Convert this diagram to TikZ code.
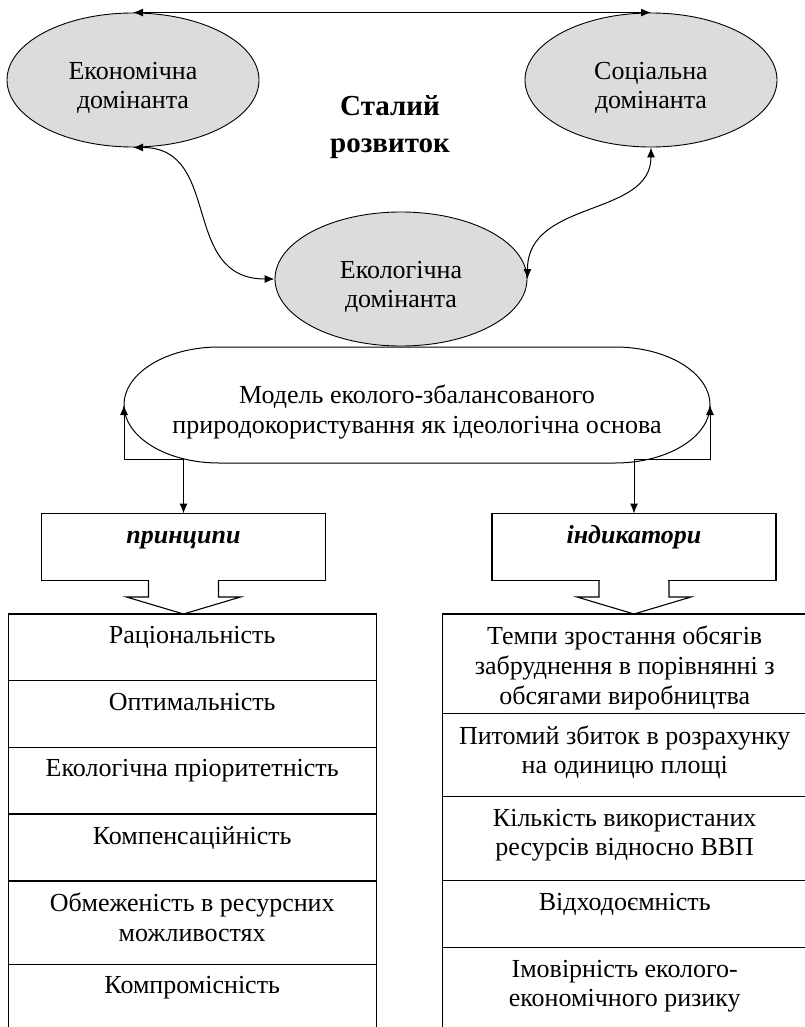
\documentclass[tikz,border=0pt]{standalone}
\usepackage{fontspec}
\setmainfont{Liberation Serif}
\usetikzlibrary{positioning,shapes.geometric,arrows.meta}
\definecolor{domgray}{RGB}{220,221,219}

\tikzset{
  dominant/.style={ellipse, draw, fill=domgray, line width=0.9pt, minimum width=252pt, minimum height=134pt, inner sep=0pt},
  domtext/.style={align=center, yshift=-8pt},
  headbox/.style={draw, line width=1.1pt, outer sep=0pt, minimum width=284pt, minimum height=67pt},
  headtext/.style={font=\fontsize{26}{30}\selectfont\bfseries\itshape, text height=18pt, text depth=6pt, yshift=10pt},
  lcell/.style={draw, line width=1.1pt, outer sep=0pt, inner sep=0pt, minimum width=367.7pt, minimum height=#1},
  rcell/.style={draw, line width=1.1pt, outer sep=0pt, inner sep=0pt, minimum width=364pt, minimum height=#1},
  celltext/.style={anchor=north, yshift=-12pt, align=center, inner sep=0pt},
  link/.style={line width=1pt, {Latex[length=10pt,width=8pt]}-{Latex[length=10pt,width=8pt]}},
  feed/.style={line width=1pt, -{Latex[length=10pt,width=8pt]}},
}

\begin{document}
\begin{tikzpicture}[x=1pt, y=1pt, font=\fontsize{26}{29.8}\selectfont]
\useasboundingbox (0,0) rectangle (804,-1027);

\node[dominant, label={[domtext]center:Економічна\\домінанта}] (econ) at (133,-80) {};
\node[dominant, label={[domtext]center:Соціальна\\домінанта}] (soc) at (651,-80) {};
\node[dominant, label={[domtext]center:Екологічна\\домінанта}] (eco) at (401,-279) {};
\node[font=\fontsize{29}{37}\selectfont\bfseries, align=center] (goal) at (390,-127) {Сталий\\розвиток};

\draw[link] (econ.north) -- (soc.north);
\draw[link] (econ.south) .. controls +(90,0) and +(-95,0) .. (eco.west);
\draw[link] (soc.south) .. controls +(0,-70) and +(0,80) .. (eco.east);

\node[minimum width=586pt, minimum height=116pt, inner sep=0pt, outer sep=0pt,
  label={[align=center, yshift=-7pt]center:Модель еколого-збалансованого\\природокористування як ідеологічна основа}] (model) at (417,-405) {};
\draw[line width=1pt] ([xshift=95pt]model.north west) -- ([xshift=-95pt]model.north east)
  arc[start angle=90, end angle=-90, x radius=95pt, y radius=58pt]
  -- ([xshift=95pt]model.south west)
  arc[start angle=270, end angle=90, x radius=95pt, y radius=58pt] -- cycle;

\node[headbox, label={[headtext]center:принципи}] (princ) at (183.5,-547) {};
\node[headbox, label={[headtext]center:індикатори}] (indic) at (634,-547) {};

\coordinate (pfoot) at (183.5,-459);
\coordinate (ifoot) at (634,-459);
\draw[feed] (pfoot) -| (model.west);
\draw[feed] (ifoot) -| (model.east);
\draw[feed] (pfoot) -- (princ.north);
\draw[feed] (ifoot) -- (indic.north);

\foreach \b in {princ,indic}{
  \fill[white] ([xshift=-34.4pt,yshift=1pt]\b.south) rectangle ([xshift=34.4pt,yshift=-1pt]\b.south);
  \draw[line width=1.1pt] ([xshift=-35pt]\b.south) -- ++(0,-16.5) -- ++(-22,0) -- ++(57,-17) -- ++(57,17) -- ++(-22,0) -- ++(0,16.5);
}

\node[lcell=66.7pt, anchor=north, label={[celltext]north:Раціональність}] (pl1) at (192.2,-614) {};
\node[lcell=66.6pt, below=0pt of pl1, label={[celltext]north:Оптимальність}] (pl2) {};
\node[lcell=66.7pt, below=0pt of pl2, label={[celltext]north:Екологічна пріоритетність}] (pl3) {};
\node[lcell=67pt, below=0pt of pl3, label={[celltext]north:Компенсаційність}] (pl4) {};
\node[lcell=83.3pt, below=0pt of pl4, label={[celltext]north:{Обмеженість в ресурсних\\можливостях}}] (pl5) {};
\node[lcell=67.7pt, below=0pt of pl5, label={[celltext]north:Компромісність}] (pl6) {};

\node[rcell=99.3pt, anchor=north, label={[celltext]north:{Темпи зростання обсягів\\забруднення в порівнянні з\\обсягами виробництва}}] (ir1) at (624.7,-614) {};
\node[rcell=83.4pt, below=0pt of ir1, label={[celltext]north:{Питомий збиток в розрахунку\\на одиницю площі}}] (ir2) {};
\node[rcell=84pt, below=0pt of ir2, label={[celltext]north:{Кількість використаних\\ресурсів відносно ВВП}}] (ir3) {};
\node[rcell=67pt, below=0pt of ir3, label={[celltext]north:Відходоємність}] (ir4) {};
\node[rcell=84.3pt, below=0pt of ir4, label={[celltext]north:{Імовірність еколого-\\економічного ризику}}] (ir5) {};
\end{tikzpicture}
\end{document}
